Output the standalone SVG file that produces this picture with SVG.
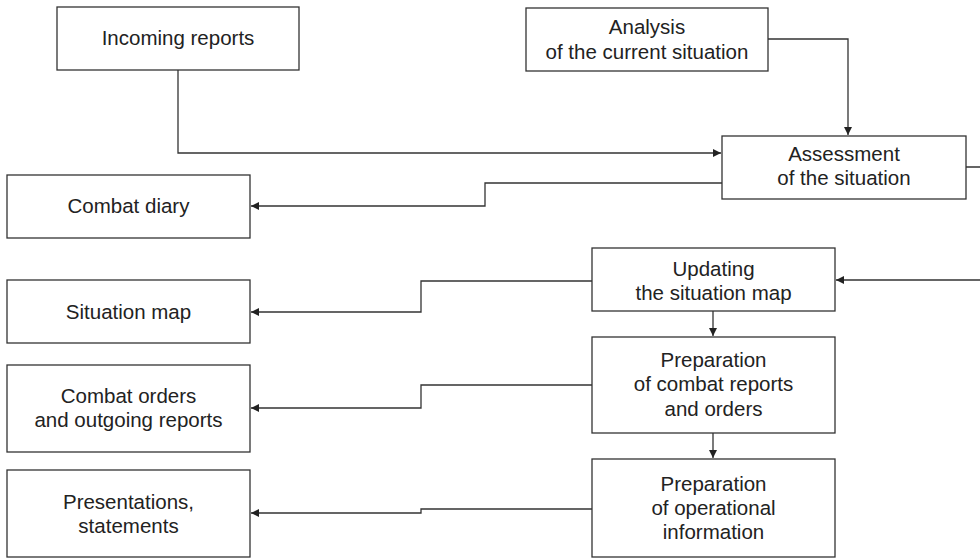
<svg xmlns="http://www.w3.org/2000/svg" width="980" height="559" viewBox="0 0 980 559">
<style>
.box{fill:#fff;stroke:#333;stroke-width:1.3}
.t{font-family:"Liberation Sans","Open Sans",Arial,sans-serif;font-size:20.5px;fill:#222;text-anchor:middle}
.c{fill:none;stroke:#333;stroke-width:1.3}
</style>
<defs>
<marker id="ah" viewBox="0 0 10 10" refX="10" refY="5" markerWidth="8" markerHeight="8" markerUnits="userSpaceOnUse" orient="auto">
<path d="M0,0 L10,5 L0,10 z" fill="#222"/>
</marker>
</defs>
<g id="connectors">
<path class="c" d="M178,70 V153 H721" marker-end="url(#ah)"/>
<path class="c" d="M768,39 H848 V135" marker-end="url(#ah)"/>
<path class="c" d="M722,183 H485 V206 H251" marker-end="url(#ah)"/>
<path class="c" d="M966,167 H990 V280 H836" marker-end="url(#ah)"/>
<path class="c" d="M592,281 H421 V312 H251" marker-end="url(#ah)"/>
<path class="c" d="M713,311 V336" marker-end="url(#ah)"/>
<path class="c" d="M592,385 H421 V408 H251" marker-end="url(#ah)"/>
<path class="c" d="M713,433 V458" marker-end="url(#ah)"/>
<path class="c" d="M592,509 H421 V513 H251" marker-end="url(#ah)"/>
</g>
<g id="incoming">
<rect class="box" x="57" y="7" width="242" height="63"/>
<text class="t" x="178" y="45">Incoming reports</text>
</g>
<g id="analysis">
<rect class="box" x="526" y="8" width="242" height="63"/>
<text class="t" x="647" y="34">Analysis</text>
<text class="t" x="647" y="59">of the current situation</text>
</g>
<g id="assessment">
<rect class="box" x="722" y="136" width="244" height="63"/>
<text class="t" x="844" y="161">Assessment</text>
<text class="t" x="844" y="185">of the situation</text>
</g>
<g id="diary">
<rect class="box" x="7" y="175" width="243" height="63"/>
<text class="t" x="128.5" y="213">Combat diary</text>
</g>
<g id="sitmap">
<rect class="box" x="7" y="280" width="243" height="63"/>
<text class="t" x="128.5" y="319">Situation map</text>
</g>
<g id="updating">
<rect class="box" x="592" y="248" width="243" height="63"/>
<text class="t" x="713.5" y="276">Updating</text>
<text class="t" x="713.5" y="300">the situation map</text>
</g>
<g id="orders">
<rect class="box" x="7" y="365" width="243" height="87"/>
<text class="t" x="128.5" y="403">Combat orders</text>
<text class="t" x="128.5" y="427">and outgoing reports</text>
</g>
<g id="prepcombat">
<rect class="box" x="592" y="337" width="243" height="96"/>
<text class="t" x="713.5" y="367">Preparation</text>
<text class="t" x="713.5" y="391">of combat reports</text>
<text class="t" x="713.5" y="416">and orders</text>
</g>
<g id="presentations">
<rect class="box" x="7" y="470" width="243" height="87"/>
<text class="t" x="128.5" y="509">Presentations,</text>
<text class="t" x="128.5" y="533">statements</text>
</g>
<g id="prepop">
<rect class="box" x="592" y="459" width="243" height="98"/>
<text class="t" x="713.5" y="491">Preparation</text>
<text class="t" x="713.5" y="515">of operational</text>
<text class="t" x="713.5" y="539">information</text>
</g>
</svg>
